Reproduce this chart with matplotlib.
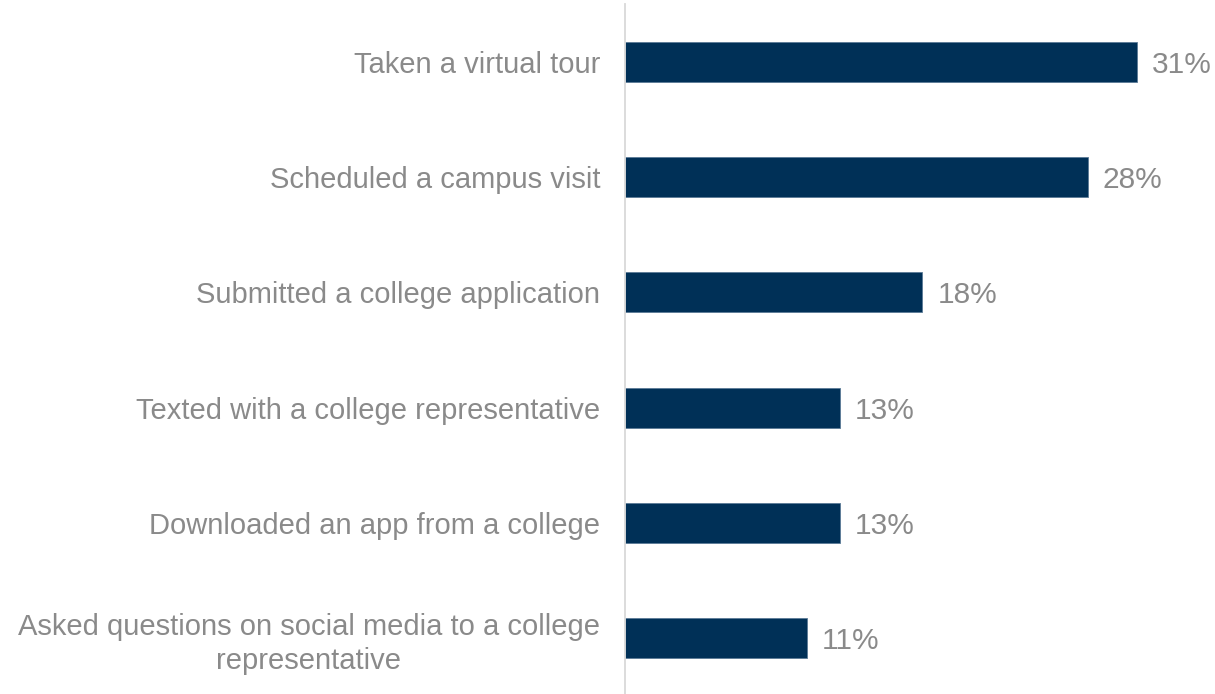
import matplotlib
matplotlib.use("Agg")
import matplotlib.pyplot as plt

categories = [
    "Taken a virtual tour",
    "Scheduled a campus visit",
    "Submitted a college application",
    "Texted with a college representative",
    "Downloaded an app from a college",
    "Asked questions on social media to a college\nrepresentative",
]
values = [31, 28, 18, 13, 13, 11]
value_labels = ["31%", "28%", "18%", "13%", "13%", "11%"]

bar_color = "#003057"
text_color = "#8a8a8a"
axis_color = "#d9d9d9"

plt.rcParams["font.family"] = ["Liberation Sans", "DejaVu Sans"]

W, H = 1215, 694
fig = plt.figure(figsize=(W / 100, H / 100), dpi=100)
ax = fig.add_axes([625 / W, 0, 1 - 625 / W, 690 / H])

ypos = list(range(len(categories)))
ax.barh(ypos, values, height=0.347, color=bar_color, edgecolor="#5a7a96", linewidth=0.6)

ax.set_xlim(0, 590 / 16.52)
ax.set_ylim(5.486, -0.503)

for s in ["top", "right", "bottom"]:
    ax.spines[s].set_visible(False)
ax.spines["left"].set_color(axis_color)
ax.spines["left"].set_linewidth(1.3)
ax.set_xticks([])
ax.set_yticks(ypos)
ax.set_yticklabels(categories, fontsize=21, color=text_color,
                   multialignment="center", linespacing=1.25)
ax.tick_params(axis="y", length=0, pad=18)

for y, v, lab in zip(ypos, values, value_labels):
    ax.annotate(lab, xy=(v, y), xytext=(15, 0), textcoords="offset pixels",
                ha="left", va="center_baseline", fontsize=21.5, color=text_color)

fig.savefig("out.png", dpi=100)
